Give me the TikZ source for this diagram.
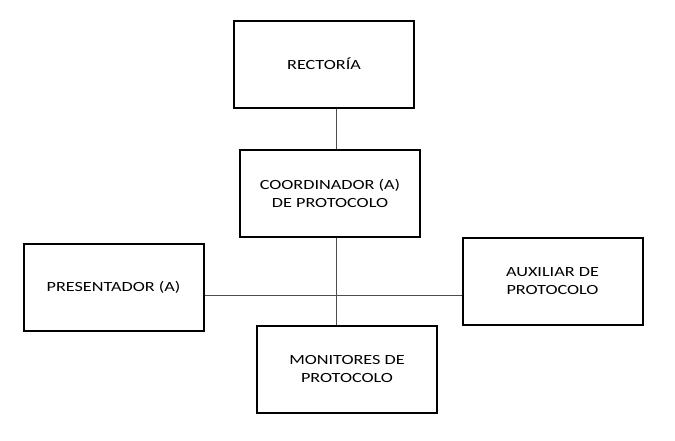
\documentclass[tikz,border=0pt]{standalone}
\usepackage{fontspec}
\setmainfont{Carlito}[FakeStretch=1.3]
\begin{document}
\begin{tikzpicture}[x=1pt,y=-1pt,
  box/.style={draw,line width=2pt,minimum width=180pt,minimum height=87pt,align=center,font=\fontsize{14}{18}\selectfont,inner sep=0pt},
  conn/.style={draw=black!70,line width=1pt}]
\useasboundingbox (0,0) rectangle (675,440);
\node[box] (rec) at (324,64) {RECTORÍA};
\node[box] (coo) at (330,193.5) {COORDINADOR (A)\\DE PROTOCOLO};
\node[box] (pre) at (113.5,287) {PRESENTADOR (A)};
\node[box] (aux) at (552.5,281.5) {AUXILIAR DE\\PROTOCOLO};
\node[box] (mon) at (347,369) {MONITORES DE\\PROTOCOLO};
\coordinate (j) at (336,295);
\draw[conn] (336,0 |- rec.south) -- (336,0 |- coo.north);
\draw[conn] (336,0 |- coo.south) -- (336,0 |- mon.north);
\draw[conn] (pre.east |- j) -- (aux.west |- j);
\end{tikzpicture}
\end{document}
